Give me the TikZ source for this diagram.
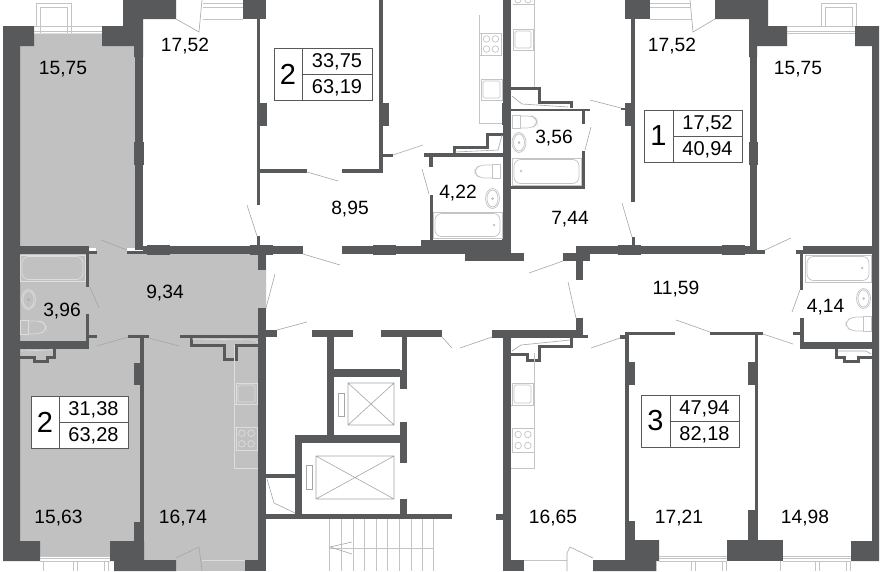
\documentclass[tikz,border=0pt]{standalone}
\usepackage{fontspec}
\setmainfont{Liberation Sans}
\definecolor{wallc}{HTML}{58595B}
\definecolor{roomg}{HTML}{C1C1C1}
\definecolor{fixc}{HTML}{C4C4C4}
\definecolor{fixg}{HTML}{DDDDDD}
\definecolor{doorc}{HTML}{A6A6A6}
\tikzset{
  wall/.style={fill=wallc,draw=none},
  shaft/.style={draw=wallc,line width=3pt,miter limit=10},
  fixt/.style={draw=fixc,line width=0.7pt},
  fixtg/.style={draw=fixg,line width=0.7pt},
  doorl/.style={draw=doorc,line width=0.6pt},
  lift/.style={draw=fixc!85!black,line width=0.6pt},
  area/.style={font=\fontsize{19.2}{19.2}\selectfont,text=black,inner sep=0pt,yshift=-1pt},
  boxnum/.style={font=\fontsize{20}{20}\selectfont,text=black,inner sep=0pt,yshift=-1pt},
  bignum/.style={font=\fontsize{29}{29}\selectfont,text=black,inner sep=0pt},
  infobox/.style={draw=wallc,line width=0.6pt}
}
\newcommand{\wl}[4]{\fill[wall] (#1,#2) rectangle (#3,#4);}
\newcommand{\bathfx}[5]{\draw[#5] (#1,#2) rectangle (#3,#4);
  \draw[#5,rounded corners=6.5pt] (#1+2,#2+1.5) rectangle (#3-2,#4-1.5);}
\newcommand{\infob}[9]{%
  \draw[infobox] (#2,#3) rectangle (#4,#5);
  \draw[infobox] (#6,#3) -- (#6,#5) (#6,#7) -- (#4,#7);
  \node[bignum] (#1n) at ({(#2+#6)/2},{(#3+#5)/2}) {#8};
  \node[boxnum] (#1a) at ({(#6+#4)/2},{(#3+#7)/2}) {#9};}
\newcommand{\infoc}[4]{\node[area] (#1) at (#2,#3) {#4};}
\newcommand{\ksink}[5]{\draw[#5] (#1,#2) rectangle (#3,#4);
  \draw[#5,rounded corners=1.5pt] (#1+2,#2+2) rectangle (#3-2,#4-2);}
\newcommand{\kstove}[5]{\draw[#5] (#1,#2) rectangle (#3,#4);
  \draw[#5] ({#1+(#3-#1)*0.28},{#2+(#4-#2)*0.27}) circle (3.3pt) ({#1+(#3-#1)*0.72},{#2+(#4-#2)*0.27}) circle (3.3pt)
   ({#1+(#3-#1)*0.28},{#2+(#4-#2)*0.73}) circle (3.3pt) ({#1+(#3-#1)*0.72},{#2+(#4-#2)*0.73}) circle (3.3pt);}
\begin{document}
\begin{tikzpicture}[x=1pt,y=-1pt]
\useasboundingbox (0,0) rectangle (883,571);
\fill[white] (0,0) rectangle (883,571);
% ---- grey flat
\fill[roomg] (34,33) rectangle (102,46);
\fill[roomg] (20,46) rectangle (135,248);
\fill[roomg] (20,254) rectangle (86,345);
\fill[roomg] (96,246) rectangle (127,254);
\fill[roomg] (86,254) -- (266,254) -- (266,308) -- (258,338) -- (258,349) -- (86,349) -- cycle;
\fill[roomg] (20,349) rectangle (140,541);
\fill[roomg] (140,338) rectangle (258,560);
\fill[roomg] (40,541) rectangle (110,556);
\fill[roomg] (176,560) rectangle (245,571);
% ---- top-left block and outer wall
\fill[wall] (3,26) -- (34,26) -- (34,46) -- (20,46) -- (20,541) -- (40,541) -- (40,561) -- (3,561) -- cycle;
\fill[wall] (123,0) -- (176,0) -- (176,19) -- (143,19) -- (143,57) -- (134,57) -- (134,46) -- (102,46) -- (102,26) -- (123,26) -- cycle;
\wl{135}{46}{143}{250}
\wl{134}{142}{144}{165}
\wl{243}{0}{266}{19}
\wl{257}{19}{260}{205}
\wl{260}{103}{267}{126}
\wl{379}{0}{383}{172}
\wl{382}{103}{389}{126}
\wl{383}{154}{393}{157}
\wl{260}{169}{307}{173}
\wl{342}{169}{383}{173}
% corridor top wall
\wl{20}{246}{89}{254}
\wl{89}{251}{97}{254}
\wl{127}{250.5}{143}{254}
\wl{143}{246}{303}{254}
\wl{147}{245}{170}{255}
\wl{250}{245}{273}{255}
\wl{258}{254}{266}{270}
\wl{257}{236}{260}{246}
\wl{342}{246}{425}{254}
\wl{373}{245}{396}{255}
\wl{421}{240}{511}{254}
\wl{465}{253}{524}{261}
\wl{503}{0}{511}{253}
\wl{502}{103}{503}{125}
\wl{502}{219}{503}{240}
\wl{563}{253}{590}{261}
\wl{576}{246}{583}{280}
\wl{583}{246}{757}{254}
\wl{618}{245}{641}{255}
\wl{722}{245}{745}{255}
\wl{749}{250}{765}{254}
\wl{796}{250}{803}{254}
\wl{803}{246}{872}{254}
% bath 4.22
\wl{424}{153}{503}{157}
\wl{429}{157}{433}{167}
\wl{429.5}{195}{433}{240}
\draw[shaft] (454,153) -- (454,147) -- (487,147) -- (487,134) -- (503,134);
\draw[doorl] (455,152) -- (498,150) -- (502,135);
% bath 3.56
\wl{511}{108.5}{590}{110.8}
\wl{582}{110}{585}{124}
\wl{582}{151}{585}{189}
\wl{511}{185.7}{585}{189}
\draw[shaft] (511,88) -- (539,88) -- (539,102) -- (571,102) -- (571,108);
\draw[doorl] (512,96) -- (522,104) -- (568,107);
% top right
\wl{625}{0}{650}{19}
\fill[wall] (715,0) -- (768,0) -- (768,26) -- (787,26) -- (787,46) -- (757,46) -- (757,57) -- (749,57) -- (749,19) -- (715,19) -- cycle;
\wl{631}{19}{635}{202}
\wl{625}{103}{635}{126}
\wl{621}{108}{625}{110}
\wl{632}{237}{635}{246}
\wl{750}{46}{757}{250}
\wl{749}{142}{758}{165}
\fill[wall] (855,26) -- (879,26) -- (879,561) -- (851,561) -- (851,541) -- (872,541) -- (872,46) -- (855,46) -- cycle;
% right bathroom
\wl{800}{250}{803}{290}
\wl{800}{318}{804}{349}
\wl{793}{332}{800}{335}
\wl{800}{342}{872}{349}
\draw[shaft] (836,349) -- (836,357) -- (844,357) -- (844,361) -- (858,361) -- (858,357) -- (872,357);
\draw[doorl] (838,351) -- (866,351) -- (871,354);
% left bathroom
\wl{86}{254}{89}{287}
\wl{86}{314}{89}{345}
\wl{89}{335}{97}{338}
\wl{20}{341}{89}{349}
\draw[shaft] (20,357) -- (34,357) -- (34,361) -- (47,361) -- (47,357) -- (54,357) -- (54,349);
\draw[draw=fixg,line width=0.6pt] (21,351) -- (50,350) -- (52,349);
% lower left
\wl{128}{335}{149}{338}
\wl{140}{338}{144}{558}
\wl{134}{363}{144}{385}
\wl{134}{522}{144}{545}
\fill[wall] (110,541) -- (144,541) -- (144,560) -- (176,560) -- (176,571) -- (114,571) -- (114,561) -- (110,561) -- cycle;
\wl{245}{560}{266}{571}
\wl{258}{308}{266}{560}
\wl{258}{330}{277}{337}
\wl{180}{335}{258}{338}
\draw[shaft] (191,338) -- (191,345) -- (224,345) -- (224,359) -- (236,359) -- (236,345) -- (258,345);
\draw[draw=fixg,line width=0.6pt] (192,339) -- (255,340) -- (258,343);
% core
\wl{312}{330}{353}{337}
\wl{381}{330}{442}{337}
\wl{327}{337}{334}{436}
\wl{402}{337}{407}{370}
\wl{400}{370}{407}{389}
\wl{334}{369}{400}{377}
\wl{400}{422}{407}{463}
\wl{295}{435}{407}{443}
\wl{295}{435}{302}{519}
\wl{266}{474}{295}{478}
\wl{266}{514}{452}{519}
\wl{400}{499}{407}{514}
% right of core
\wl{492}{330}{583}{338}
\wl{503}{338}{511}{571}
\wl{576}{318}{583}{338}
\wl{583}{335}{588}{338}
\wl{496}{514}{503}{520}
\wl{503}{560}{524}{571}
\draw[shaft] (511,354) -- (527,354) -- (527,360) -- (539,360) -- (539,346) -- (571,346) -- (571,338);
\draw[doorl] (512,351) -- (521,345) -- (570,340);
% flat 3
\wl{620}{335}{628}{339}
\wl{625}{332}{675}{335}
\wl{710}{332}{763}{335}
\wl{625}{335}{629}{541}
\wl{626}{362}{635}{385}
\wl{626}{521}{635}{541}
\wl{755}{335}{758}{541}
\wl{748}{362}{758}{385}
\wl{748}{510}{758}{541}
\fill[wall] (625,540) -- (659,540) -- (659,561) -- (656,561) -- (656,571) -- (593,571) -- (593,560) -- (625,560) -- cycle;
\wl{727}{540}{783}{561}
% windows
\foreach \a/\b in {34/102,787/855}{
  \draw[fixt] (\a,26) -- (\b,26) (\a,31) -- (\b,31) (\a,33) -- (\b,33);
}
\draw[fixtg] (34,33) -- (102,33);
\draw[fixt] (36,26) -- (36,3) -- (71,3) -- (71,33) (40,33) -- (40,7) -- (67,7) -- (67,33);
\draw[fixt] (821,26) -- (821,3) -- (856,3) -- (856,26) (825,26) -- (825,7) -- (852,7) -- (852,26);
\foreach \a/\b/\c/\d/\e/\f in {40/110/73/77/104/108,659/727/691/695/722/726,783/851/815/819/846/850}{
  \draw[fixt] (\a,556) -- (\b,556) (\a,558) -- (\b,558) (\a,561) -- (\b,561);
  \draw[fixt] (\c,561) -- (\c,571) (\d,561) -- (\d,571) (\e,561) -- (\e,571) (\f,561) -- (\f,571);
}
\draw[fixt] (656,561) -- (656,571) (780,561) -- (780,571);
\draw[fixt] (43,561) -- (43,571);
% entrances
\draw[fixt] (203,3) -- (243,3) (203,7) -- (243,7) (203,19) -- (243,19);
\draw[fixt] (650,3) -- (690,3) (650,7) -- (690,7) (650,19) -- (692,19);
\draw[doorl] (176,19) -- (199,32) -- (202,0);
\draw[doorl] (715,19) -- (693,32) -- (690,0);
\draw[fixtg] (202,560) -- (245,560);
\draw[doorl] (176,558) -- (199,547) -- (202,571);
\draw[fixt] (524,560) -- (567,560);
\draw[doorl] (567,571) -- (567,553) -- (570,547) -- (593,558);
% doors
\draw[doorl] (247,205) -- (257,236);
\draw[doorl] (127,250) -- (101,240);
\draw[doorl] (307,172) -- (338,181);
\draw[doorl] (303,254) -- (340,265);
\draw[doorl] (393,155) -- (423,145);
\draw[doorl] (429,194) -- (422,169);
\draw[doorl] (590,100) -- (621,108);
\draw[doorl] (591,127) -- (585,150);
\draw[doorl] (622,203) -- (632,237);
\draw[doorl] (765,250) -- (791,238);
\draw[doorl] (529,273) -- (563,261);
\draw[doorl] (568,282) -- (576,318);
\draw[doorl] (275,274) -- (266,308);
\draw[doorl] (277,330) -- (307,322);
\draw[doorl] (90,287) -- (99,308);
\draw[doorl] (97,346) -- (128,337);
\draw[doorl] (149,338) -- (179,346);
\draw[doorl] (442,337) -- (452,348);
\draw[doorl] (460,348) -- (492,337);
\draw[doorl] (620,338) -- (591,348);
\draw[doorl] (710,332) -- (676,320);
\draw[doorl] (763,334) -- (793,344);
\draw[doorl] (800,290) -- (792,312);
\draw[doorl] (267,479) -- (274,503) -- (295,513);
% baths
\bathfx{20}{255}{85}{281}{fixtg}
\bathfx{433}{212}{502}{238}{fixt}
\bathfx{512}{158}{581}{185}{fixt}
\bathfx{805}{255}{871}{282}{fixt}
\foreach \x/\y in {29/267,521/171,494/225,862/268}{\draw[fixt] (\x,\y) circle (1pt);}
% toilets
\draw[fixt] (492,164) rectangle (500,178);
\draw[fixt,rounded corners=5pt] (492,165) -- (480,165) -- (475,169) -- (475,174) -- (480,178) -- (492,178);
\draw[fixt] (512,115) rectangle (520,128);
\draw[fixt,rounded corners=5pt] (520,116) -- (532,116) -- (537,119) -- (537,124) -- (532,128) -- (520,128);
\draw[fixtg] (20,320) rectangle (28,334);
\draw[fixtg,rounded corners=5pt] (28,321) -- (40,321) -- (46,324) -- (46,330) -- (40,334) -- (28,334);
\draw[fixt] (863,316) rectangle (871,331);
\draw[fixt,rounded corners=5pt] (863,317) -- (852,317) -- (846,321) -- (846,327) -- (852,331) -- (863,331);
% basins
\foreach \x/\y/\s in {492.5/198.5/fixt,519/142.5/fixt,28.5/299.5/fixtg,863.5/298.5/fixt}{
  \draw[\s] (\x,\y) ellipse (7pt and 10pt);
  \draw[\s] (\x,\y) ellipse (5.5pt and 8.5pt);
  \draw[doorc,line width=0.5pt] (\x,\y) circle (0.9pt);
}
% kitchens
\draw[fixt] (479,15) -- (479,123) -- (502,123);
\draw[fixt] (479,33) -- (502,33) (479,55) -- (502,55);
\kstove{481}{33}{501}{55}{fixt}
\ksink{481}{79}{502}{100}{fixt}
\draw[fixt] (534,0) -- (534,87);
\ksink{513}{29}{533}{50}{fixt}
\draw[fixt] (513,4) -- (534,4);
\draw[fixt] (518,0) circle (3pt) (528,0) circle (3pt);
\draw[fixtg] (234,345) -- (234,468) -- (258,468);
\ksink{236}{383}{257}{404}{fixtg}
\draw[fixtg] (234,404) -- (258,404) (234,427) -- (258,427);
\kstove{236}{427}{257}{450}{fixtg}
\draw[fixt] (534,353) -- (534,468) -- (511,468);
\ksink{512}{383}{533}{405}{fixt}
\draw[fixt] (511,405) -- (534,405);
\kstove{512}{428}{534}{452}{fixt}
% lifts
\draw[lift] (348,383) rectangle (394,425) (348,383) -- (394,425) (394,383) -- (348,425);
\draw[lift] (338,393) rectangle (344,416);
\draw[lift] (316,456) rectangle (394,499) (316,456) -- (394,499) (394,456) -- (316,499);
\draw[lift] (306,465) rectangle (312,489);
% stairs
\foreach \x in {329,341,353,364,376,387,399,411,422,433}{\draw[fixt] (\x,519) -- (\x,571);}
\draw[fixt] (329,548) -- (433,548);
\draw[doorl] (352,542) -- (330,547) -- (352,554);
% info boxes
\infob{bA}{274}{48}{372}{100}{302}{74}{2}{33,75}
\node[boxnum] (bAb) at (337,87) {63,19};
\infob{bB}{644}{110}{742}{162}{673}{136}{1}{17,52}
\node[boxnum] (bBb) at (707.5,148.5) {40,94};
\fill[white] (31,396) rectangle (128,448);
\infob{bC}{31}{396}{128}{448}{59}{422}{2}{31,38}
\node[boxnum] (bCb) at (93.5,435) {63,28};
\infob{bD}{641}{395}{739}{447}{670}{421}{3}{47,94}
\node[boxnum] (bDb) at (704.5,434) {82,18};
% room labels
\infoc{r1}{63}{68}{15,75}
\infoc{r2}{185}{45}{17,52}
\infoc{r3}{350}{208}{8,95}
\infoc{r4}{458}{192}{4,22}
\infoc{r5}{554}{137}{3,56}
\infoc{r6}{570}{218}{7,44}
\infoc{r7}{672}{45}{17,52}
\infoc{r8}{798}{68}{15,75}
\infoc{r9}{676}{288}{11,59}
\infoc{r10}{825.5}{306}{4,14}
\infoc{r11}{165}{292}{9,34}
\infoc{r12}{62}{310}{3,96}
\infoc{r13}{58.5}{517}{15,63}
\infoc{r14}{183}{517}{16,74}
\infoc{r15}{553}{517}{16,65}
\infoc{r16}{679}{517}{17,21}
\infoc{r17}{805}{517}{14,98}
\end{tikzpicture}
\end{document}
